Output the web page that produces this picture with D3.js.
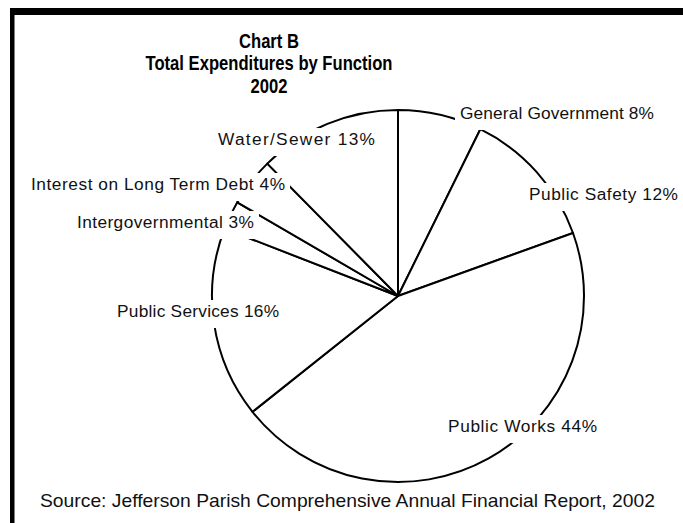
<!DOCTYPE html>
<html><head><meta charset="utf-8">
<script src="https://cdn.jsdelivr.net/npm/d3@7"></script>
<style>body{margin:0;background:#fff} svg{display:block}</style>
</head><body>
<svg id="c" width="683" height="523"></svg>
<script>
// ---- data ----
const categories = ["General Government","Public Safety","Public Works","Public Services","Intergovernmental","Interest on Long Term Debt","Water/Sewer"];
const values = [7.3, 12.2, 44.8, 16.6, 2.5, 4.2, 12.4];   // shares
const pctLabels = ["8%","12%","44%","16%","3%","4%","13%"];
const titleLines = ["Chart B","Total Expenditures by Function","2002"];
const sourceText = "Source: Jefferson Parish Comprehensive Annual Financial Report, 2002";

// ---- layout ----
const cx = 398, cy = 296, R = 186;
const labelOffset = [[19.7,4.1],[-7.8,27.9],[-40.6,-26.4],[-97.1,-6.9],[-153.5,12.8],[-220,8],[-109.4,21.1]];
const labelWidth = [194,149,149,162,177,254,157];
const FONT = "'Liberation Sans', Arial, Helvetica, sans-serif";

const svg = d3.select("#c");

// frame
svg.append("rect").attr("x",10).attr("y",8).attr("width",673).attr("height",7).attr("fill","#000");
svg.append("rect").attr("x",10).attr("y",8).attr("width",4.5).attr("height",515).attr("fill","#000");

// title
const tg = svg.append("g");
titleLines.forEach((t,i)=>{
  const el = tg.append("text").attr("x",269).attr("y",47.5+i*22.5)
    .attr("text-anchor","middle").attr("font-family",FONT).attr("font-weight","bold")
    .attr("font-size",20.5).attr("fill","#000").text(t);
  const L = el.node().getComputedTextLength();
  el.attr("textLength",L*0.81).attr("lengthAdjust","spacingAndGlyphs");
});

// pie
const pie = d3.pie().sort(null).value(d=>d);
const arcs = pie(values);
const arc = d3.arc().innerRadius(0).outerRadius(R);
const pg = svg.append("g").attr("transform",`translate(${cx},${cy})`);
pg.selectAll("path").data(arcs).join("path")
  .attr("d",arc).attr("fill","#fff").attr("stroke","#000").attr("stroke-width",2).attr("stroke-linejoin","round");

// labels with white boxes
const bg = svg.append("g");
const lg = svg.append("g");
arcs.forEach((a,i)=>{
  const m = (a.startAngle+a.endAngle)/2;
  const ax = cx + R*Math.sin(m), ay = cy - R*Math.cos(m);
  const x = ax + labelOffset[i][0], y = ay + labelOffset[i][1];
  lg.append("text").attr("x",x).attr("y",y)
    .attr("font-family",FONT).attr("font-size",17.3).attr("fill","#111")
    .attr("textLength",labelWidth[i]).attr("lengthAdjust","spacing")
    .text(categories[i]+" "+pctLabels[i]);
  bg.append("rect").attr("x",x-5).attr("y",y-17).attr("width",labelWidth[i]+10).attr("height",28).attr("fill","#fff");
});

// source
const s = svg.append("text").attr("x",40).attr("y",507)
  .attr("font-family",FONT).attr("font-size",18.5).attr("fill","#111").text(sourceText);
s.attr("textLength",615).attr("lengthAdjust","spacingAndGlyphs");
</script>
</body></html>
